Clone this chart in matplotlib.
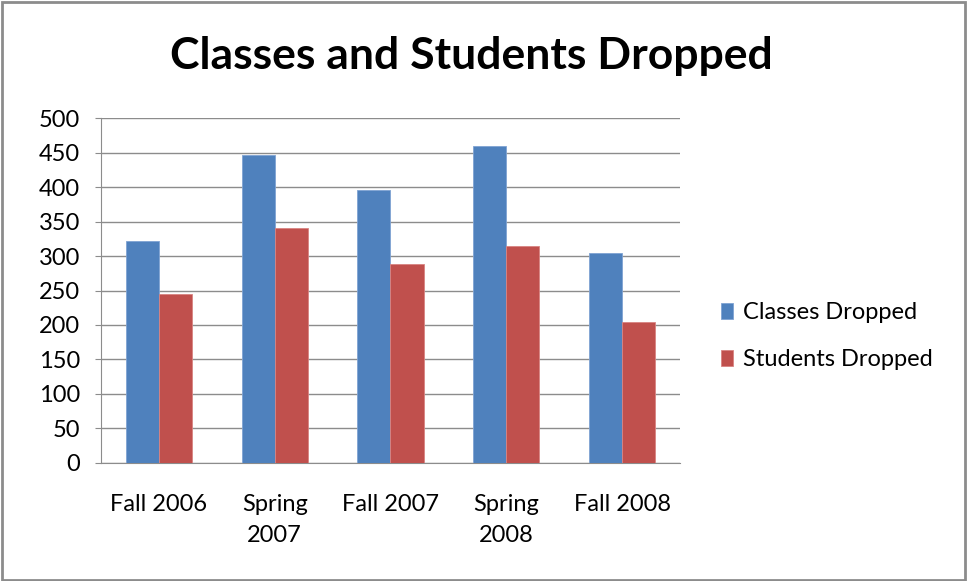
import numpy as np
import matplotlib as mpl
import matplotlib.pyplot as plt
from matplotlib.patches import Rectangle

mpl.rcParams['font.family'] = ['Lato', 'DejaVu Sans']

terms = ['Fall 2006', 'Spring\n2007', 'Fall 2007', 'Spring\n2008', 'Fall 2008']
classes_dropped = [322, 447, 395, 460, 305]
students_dropped = [245, 340, 288, 314, 204]

fig = plt.figure(figsize=(9.67, 5.81), dpi=100)
ax = fig.add_axes([0.1044, 0.2031, 0.5988, 0.5938])

x = np.arange(len(terms))
w = 1.0 / 3.5
b1 = ax.bar(x - w/2, classes_dropped, w, color='#4f81bd', edgecolor='#7fa3d3', lw=0.6, label='Classes Dropped', zorder=3)
b2 = ax.bar(x + w/2, students_dropped, w, color='#c0504d', edgecolor='#d98482', lw=0.6, label='Students Dropped', zorder=3)

ax.set_xlim(-0.5, len(terms) - 0.5)
ax.set_ylim(0, 500)
ax.set_yticks(np.arange(0, 501, 50))
ax.yaxis.grid(True, color='#8c8c8c', lw=1.0, zorder=0)
ax.set_xticks(x)
ax.set_xticklabels(terms, fontsize=17, linespacing=1.6)
ax.tick_params(axis='x', length=0, pad=22)
ax.tick_params(axis='y', length=4, color='#8c8c8c', labelsize=17, pad=11)
for s in ['top', 'right']:
    ax.spines[s].set_visible(False)
for s in ['left', 'bottom']:
    ax.spines[s].set_color('#8c8c8c')

fig.text(0.487, 0.903, 'Classes and Students Dropped', ha='center', va='center',
         fontsize=32, fontweight='bold')

fig.legend(handles=[b1, b2], loc='center left', bbox_to_anchor=(0.7235, 0.421),
           frameon=False, fontsize=17, handlelength=0.5, handleheight=0.7,
           handletextpad=0.45, labelspacing=1.1)

fig.patches.append(Rectangle((0.002, 0.002), 0.996, 0.995, transform=fig.transFigure,
                             fill=False, edgecolor='#8c8c8c', lw=2))

plt.savefig('out.png', dpi=100)
